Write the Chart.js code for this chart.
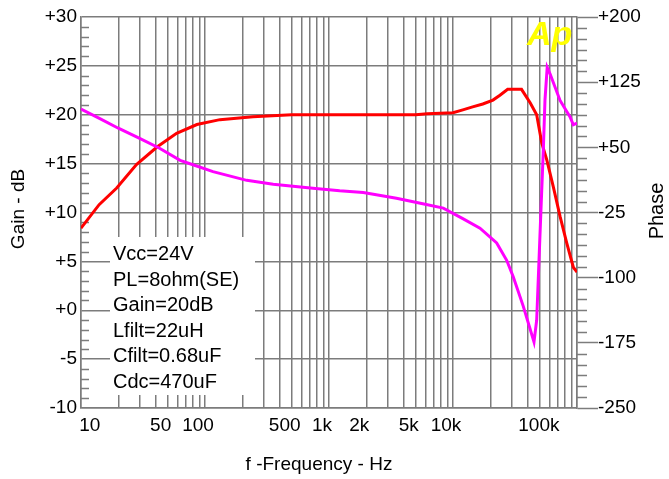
<!DOCTYPE html>
<html>
<head>
<meta charset="utf-8">
<script src="https://cdn.jsdelivr.net/npm/chart.js@4.4.1/dist/chart.umd.min.js"></script>
<style>
  html, body { margin: 0; padding: 0; background: #fff; }
  #wrap { width: 669px; height: 479px; position: relative; }
</style>
</head>
<body>
<div id="wrap"><canvas id="apChart"></canvas></div>
<script>
const gainFreq = [10, 14, 19.4, 28, 41, 59, 86, 132, 244, 500, 1000, 2000, 5000, 6200, 10000,
  12000, 14400, 17400, 21000, 23900, 27600, 35700, 42000, 47300, 52000, 57000, 64500, 73000, 82600, 93400, 100000];
const gainDb = [8.4, 10.8, 12.5, 14.9, 16.7, 18.1, 19.0, 19.5, 19.8, 20.0, 20.0, 20.0, 20.0, 20.1, 20.2,
  20.5, 20.8, 21.1, 21.5, 22.0, 22.6, 22.6, 21.2, 20.0, 17.1, 15.4, 12.6, 9.6, 6.9, 4.4, 3.9];

const phaseFreq = [10, 14.2, 20, 30, 43, 63, 80, 116, 217, 355, 741, 1220, 1890, 3500, 5700, 8350,
  12000, 16500, 22500, 27100, 30600, 36900, 45000, 47300, 50100, 53500, 55200, 57500, 60500, 73000, 87900, 93400, 100000];
const phaseDeg = [94, 83, 72, 60, 49, 35, 30, 22, 12, 7.5, 3, 0, -2, -8.6, -15, -20,
  -32, -43, -60, -80, -99, -133, -174, -149, -57, 47, 105, 142, 135, 104, 85, 76, 78];

const gainTicks = [-10, -5, 0, 5, 10, 15, 20, 25, 30];
const gainTickLabels = ['-10', '-5', '+0', '+5', '+10', '+15', '+20', '+25', '+30'];
const phaseTicks = [-250, -175, -100, -25, 50, 125, 200];
const phaseTickLabels = ['-250', '-175', '-100', '-25', '+50', '+125', '+200'];
const freqTicks = [10, 50, 100, 500, 1000, 2000, 5000, 10000, 100000];
const freqTickLabels = ['10', '50', '100', '500', '1k', '2k', '5k', '10k', '100k'];

const notes = ['Vcc=24V', 'PL=8ohm(SE)', 'Gain=20dB', 'Lfilt=22uH', 'Cfilt=0.68uF', 'Cdc=470uF'];

const gridColor = '#7c7c7c';
const FONT = '"Liberation Sans", Arial, sans-serif';

// log grid: 1..9 in every decade
const gridFreq = [];
for (let d = 10; d < 100000; d *= 10) {
    for (let m = 1; m <= 9; m++) gridFreq.push(m * d);
}
gridFreq.push(100000);

// minor ticks, notes box, titles and the Ap logo
const apExtras = {
    id: 'apExtras',
    beforeDatasetsDraw(chart) {
        const ctx = chart.ctx;
        const a = chart.chartArea;
        const y = chart.scales.y;
        const y2 = chart.scales.y2;
        ctx.save();
        ctx.strokeStyle = gridColor;
        ctx.lineWidth = 1.5;
        ctx.beginPath();
        for (let v = -10; v <= 30; v++) {
            if (v % 5 === 0) continue;
            const py = Math.round(y.getPixelForValue(v)) + 0.5;
            ctx.moveTo(a.left, py);
            ctx.lineTo(a.left + 8, py);
        }
        for (let v = -250; v <= 200; v += 12.5) {
            if ((v + 250) % 75 === 0) continue;
            const py = Math.round(y2.getPixelForValue(v)) + 0.5;
            ctx.moveTo(a.right, py);
            ctx.lineTo(a.right + 10, py);
        }
        ctx.stroke();

        // notes box hides the grid behind it
        ctx.fillStyle = '#fff';
        ctx.fillRect(110, 237, 145, 158);
        ctx.fillStyle = '#000';
        ctx.font = '20px ' + FONT;
        ctx.textAlign = 'left';
        ctx.textBaseline = 'alphabetic';
        notes.forEach((t, i) => ctx.fillText(t, 113, 260 + i * 25.5));
        ctx.restore();
    },
    afterDraw(chart) {
        const ctx = chart.ctx;
        ctx.save();
        ctx.fillStyle = '#000';
        ctx.font = '19px ' + FONT;
        ctx.textAlign = 'center';
        ctx.textBaseline = 'middle';

        ctx.fillText('f -Frequency - Hz', 319, 465);

        ctx.save();
        ctx.translate(19, 209);
        ctx.rotate(-Math.PI / 2);
        ctx.fillText('Gain - dB', 0, 0);
        ctx.restore();

        ctx.save();
        ctx.translate(657, 211);
        ctx.rotate(-Math.PI / 2);
        ctx.font = '20px ' + FONT;
        ctx.fillText('Phase', 0, 0);
        ctx.restore();

        ctx.fillStyle = '#ffff00';
        ctx.font = 'italic bold 34px ' + FONT;
        ctx.textAlign = 'left';
        ctx.textBaseline = 'alphabetic';
        ctx.fillText('Ap', 527, 45);
        ctx.restore();
    }
};

const ctx = document.getElementById('apChart').getContext('2d');
new Chart(ctx, {
    type: 'line',
    data: {
        datasets: [{
            label: 'Phase',
            data: phaseFreq.map((f, i) => ({ x: f, y: phaseDeg[i] })),
            yAxisID: 'y2',
            borderColor: '#ff00ff',
            borderWidth: 3,
            pointRadius: 0,
            tension: 0
        }, {
            label: 'Gain',
            data: gainFreq.map((f, i) => ({ x: f, y: gainDb[i] })),
            yAxisID: 'y',
            borderColor: '#ff0000',
            borderWidth: 3,
            pointRadius: 0,
            tension: 0
        }]
    },
    options: {
        responsive: true,
        maintainAspectRatio: false,
        animation: false,
        layout: { padding: { top: 17, left: 0, right: 0, bottom: 0 } },
        plugins: { legend: { display: false }, tooltip: { enabled: false } },
        scales: {
            x: {
                type: 'logarithmic',
                min: 10,
                max: 100000,
                afterBuildTicks: s => { s.ticks = gridFreq.map(v => ({ value: v })); },
                afterFit: s => { s.height = 71; },
                grid: { color: gridColor, lineWidth: 1.5, drawTicks: false },
                border: { display: true, color: gridColor, width: 1.5 },
                ticks: {
                    autoSkip: false, maxRotation: 0, minRotation: 0,
                    align: 'inner', labelOffset: -7, padding: 6,
                    color: '#000', font: { family: FONT, size: 19 },
                    callback: v => {
                        const i = freqTicks.indexOf(v);
                        if (i < 0) return '';
                        // AP puts the end labels a little inside the frame
                        if (i === 0) return ' ' + freqTickLabels[i];
                        if (i === freqTicks.length - 1) return freqTickLabels[i] + '  ';
                        return freqTickLabels[i];
                    }
                }
            },
            y: {
                position: 'left',
                min: -10,
                max: 30,
                afterBuildTicks: s => { s.ticks = gainTicks.map(v => ({ value: v })); },
                afterFit: s => { s.width = 81; },
                grid: { color: gridColor, lineWidth: 1.5, drawTicks: false },
                border: { display: true, color: gridColor, width: 1.5 },
                ticks: {
                    padding: 4, color: '#000', font: { family: FONT, size: 19 },
                    callback: v => gainTickLabels[gainTicks.indexOf(v)]
                }
            },
            y2: {
                position: 'right',
                min: -250,
                max: 200,
                afterBuildTicks: s => { s.ticks = phaseTicks.map(v => ({ value: v })); },
                afterFit: s => { s.width = 92; },
                grid: { drawOnChartArea: false, drawTicks: true, tickLength: 21, tickColor: gridColor, tickWidth: 1.5 },
                border: { display: true, color: gridColor, width: 1.5 },
                ticks: {
                    padding: 0, color: '#000', font: { family: FONT, size: 19 },
                    callback: v => phaseTickLabels[phaseTicks.indexOf(v)]
                }
            }
        }
    },
    plugins: [apExtras]
});
</script>
</body>
</html>
